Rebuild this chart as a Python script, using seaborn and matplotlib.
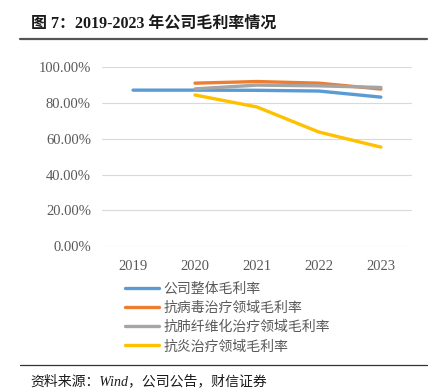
import pandas as pd
import matplotlib
matplotlib.use("Agg")
import matplotlib.pyplot as plt
import seaborn as sns
from matplotlib.lines import Line2D

# --- data ---
years = [2019, 2020, 2021, 2022, 2023]
overall = [87.1, 87.1, 87.0, 86.6, 83.2]
antiviral = [None, 91.0, 91.9, 91.0, 87.7]
antifibrosis = [None, 87.8, 89.9, 89.5, 88.6]
antiinflam = [None, 84.4, 77.7, 63.7, 55.3]

series_names = ["公司整体毛利率", "抗病毒治疗领域毛利率", "抗肺纤维化治疗领域毛利率", "抗炎治疗领域毛利率"]
colors = ["#5B9BD5", "#ED7D31", "#A5A5A5", "#FFC000"]

df = pd.DataFrame({"Year": years, series_names[0]: overall, series_names[1]: antiviral,
                   series_names[2]: antifibrosis, series_names[3]: antiinflam})
long_df = df.melt(id_vars="Year", var_name="Series", value_name="Value").dropna()

sns.set_theme(style="white")
cjk = ["Noto Sans CJK SC", "DejaVu Sans"]
serif_cjk = ["Liberation Serif", "Noto Sans CJK SC"]
plt.rcParams["font.family"] = cjk

fig = plt.figure(figsize=(4.4, 3.92), dpi=100)
ax = fig.add_axes([0.232, 0.372, 0.704, 0.457])

sns.lineplot(data=long_df, x="Year", y="Value", hue="Series", hue_order=series_names,
             palette=colors, linewidth=2.4, ax=ax, legend=False, zorder=3)

ax.set_xlim(2018.5, 2023.5)
ax.set_ylim(0, 100)
ax.set_xticks(years)
ax.set_yticks([0, 20, 40, 60, 80, 100])
ax.set_yticklabels([f"{v:.2f}%" for v in [0, 20, 40, 60, 80, 100]])
ax.yaxis.grid(True, color="#D9D9D9", linewidth=0.8)
ax.set_xlabel("")
ax.set_ylabel("")
for s in ax.spines.values():
    s.set_visible(False)
ax.tick_params(axis="both", length=0, labelsize=10.5, colors="#595959", pad=8)
for lab in ax.get_xticklabels() + ax.get_yticklabels():
    lab.set_family("Liberation Serif")
ax.tick_params(axis="x", pad=10)

# legend
handles = [Line2D([0], [0], color=c, linewidth=2.4) for c in colors]
leg = fig.legend(handles, series_names, loc="upper left", bbox_to_anchor=(0.272, 0.296),
                 frameon=False, fontsize=10, handlelength=2.4, labelspacing=0.38,
                 handletextpad=0.35, borderaxespad=0)
for t in leg.get_texts():
    t.set_color("#595959")

# title and rules
fig.text(0.07, 0.939, "图 7：2019-2023 年公司毛利率情况", fontsize=11.5, fontweight="bold",
         va="center", ha="left", color="#1a1a1a", family=serif_cjk)
fig.add_artist(Line2D([0.045, 0.97], [0.9005, 0.9005], color="#555555", linewidth=1.6))
fig.add_artist(Line2D([0.045, 0.97], [0.069, 0.069], color="#333333", linewidth=0.9))
fig.text(0.068, 0.028, "资料来源：Wind，公司公告，财信证券", fontsize=10, style="italic",
         va="center", ha="left", color="#1a1a1a", family=serif_cjk)

fig.savefig("out.png", dpi=100)
